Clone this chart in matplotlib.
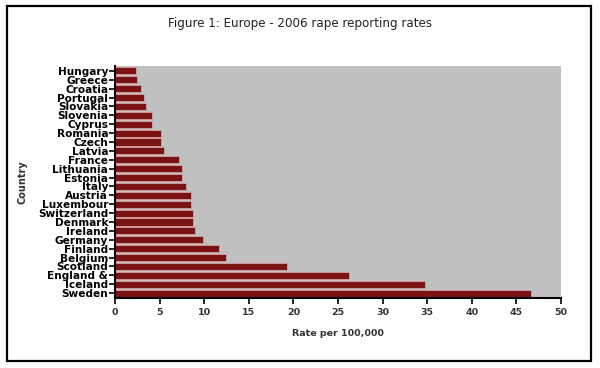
import matplotlib
matplotlib.use("Agg")
import matplotlib.pyplot as plt
from matplotlib.patches import Rectangle

countries = ["Hungary", "Greece", "Croatia", "Portugal", "Slovakia", "Slovenia",
             "Cyprus", "Romania", "Czech", "Latvia", "France", "Lithuania",
             "Estonia", "Italy", "Austria", "Luxembour", "Switzerland", "Denmark",
             "Ireland", "Germany", "Finland", "Belgium", "Scotland", "England &",
             "Iceland", "Sweden"]
rates = [2.3, 2.5, 2.9, 3.3, 3.5, 4.2, 4.2, 5.2, 5.2, 5.5, 7.2, 7.5, 7.5, 8.0,
         8.5, 8.5, 8.7, 8.8, 9.0, 9.9, 11.7, 12.4, 19.3, 26.2, 34.7, 46.6]
xticks = [0, 5, 10, 15, 20, 25, 30, 35, 40, 45, 50]

fig = plt.figure(figsize=(6, 3.68), dpi=100)
fig.patch.set_facecolor("white")
fig.patches.append(Rectangle((7/600, 7/368), 584/600, 355/368, transform=fig.transFigure,
                             fill=False, edgecolor="black", linewidth=1.6))

ax = fig.add_axes([115/600, 1 - 298/368, 446/600, 232/368])
ax.set_facecolor("#c0c0c0")
ypos = list(range(len(countries)))
ax.barh(ypos, rates, height=0.8, color="#7b1214", edgecolor="#d8a0a0", linewidth=0.6)
ax.set_ylim(len(countries) - 0.45, -0.55)
ax.set_xlim(0, 50)
ax.set_yticks(ypos)
ax.set_yticklabels(countries, fontsize=7.6, fontweight="bold", family="DejaVu Sans")
ax.set_xticks(xticks)
ax.set_xticklabels([str(t) for t in xticks], fontsize=6.8, fontweight="bold",
                   color="#333333", family="DejaVu Sans")
for s in ["top", "right"]:
    ax.spines[s].set_visible(False)
for s in ["left", "bottom"]:
    ax.spines[s].set_linewidth(1.5)
ax.tick_params(axis="y", length=4, width=1.2, pad=1)
ax.tick_params(axis="x", length=4, width=1.2, pad=3)
ax.set_xlabel("Rate per 100,000", fontsize=6.8, fontweight="bold", color="#333333",
              labelpad=9, family="DejaVu Sans")
fig.text(22/600, 1 - 182/368, "Country", rotation=90, fontsize=7, fontweight="bold",
         color="#333333", ha="center", va="center", family="DejaVu Sans")
fig.text(300/600, 1 - 23/368, "Figure 1: Europe - 2006 rape reporting rates",
         fontsize=8.6, ha="center", va="center", color="#222222", family="DejaVu Sans")

fig.savefig("out.png", dpi=100)
